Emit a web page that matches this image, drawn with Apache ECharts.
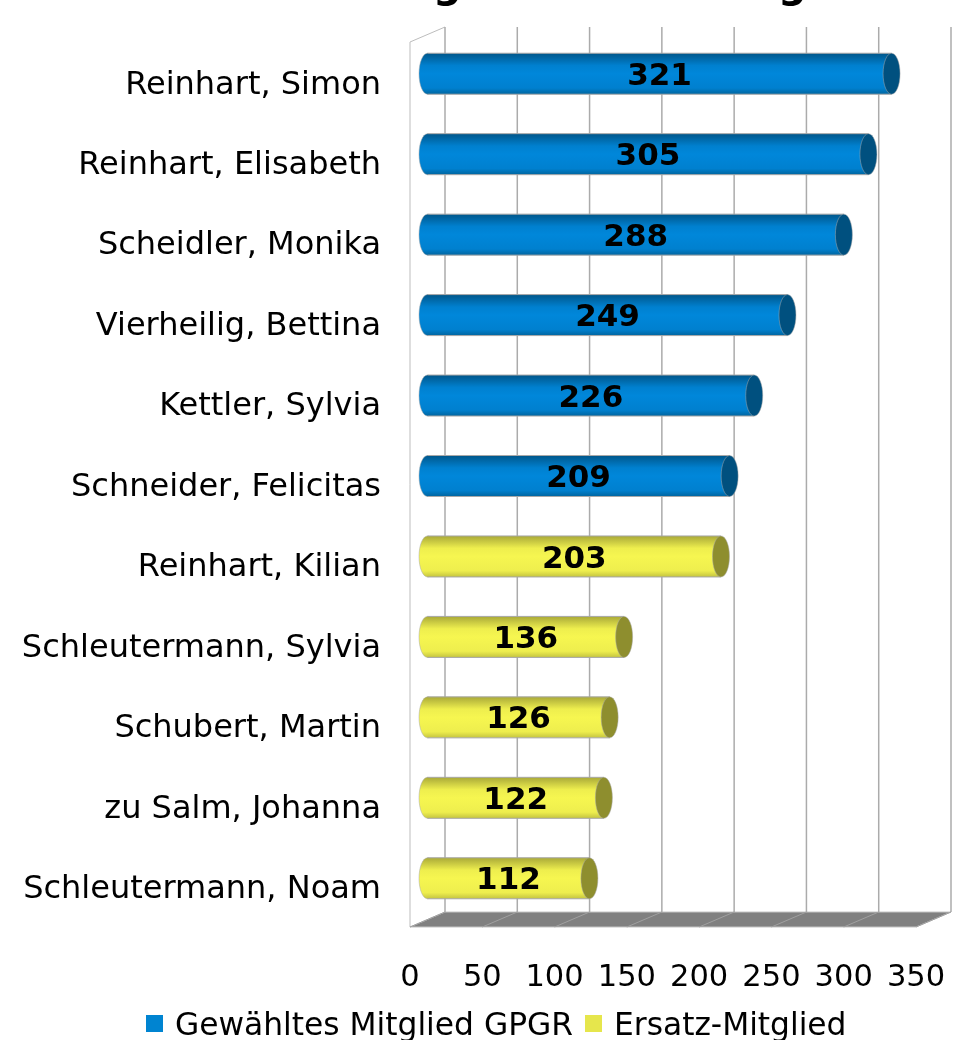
<!DOCTYPE html>
<html>
<head>
<meta charset="utf-8">
<style>
  html, body { margin: 0; padding: 0; background: #fff; }
  #chart { width: 967px; height: 1040px; }
</style>
<script src="https://cdn.jsdelivr.net/npm/echarts@6/dist/echarts.min.js"></script>
</head>
<body>
<div id="chart"></div>
<script>
// chart data
var names = [
  'Reinhart, Simon', 'Reinhart, Elisabeth', 'Scheidler, Monika', 'Vierheilig, Bettina',
  'Kettler, Sylvia', 'Schneider, Felicitas', 'Reinhart, Kilian', 'Schleutermann, Sylvia',
  'Schubert, Martin', 'zu Salm, Johanna', 'Schleutermann, Noam'
]
var electedValues = [321, 305, 288, 249, 226, 209, null, null, null, null, null]
var substituteValues = [null, null, null, null, null, null, 203, 136, 126, 122, 112]
var axisTicks = [0, 50, 100, 150, 200, 250, 300, 350]
var seriesNames = ['Gewähltes Mitglied GPGR', 'Ersatz-Mitglied']

var FONT = '"DejaVu Sans", Verdana, sans-serif'
// fake 3d depth of the plot box
var DEPTH_X = 35
var DEPTH_Y = 15
var BAR_HEIGHT = 41
var CAP_RX = 8.5

function barPalette (dark, mid, edge, bottom, cap) {
  return { dark: dark, mid: mid, edge: edge, bottom: bottom, cap: cap }
}
var bluePalette = barPalette('#00568a', '#0087da', '#0080cf', '#00659f', '#00507f')
var yellowPalette = barPalette('#a9a938', '#f6f650', '#eeee4e', '#c4c440', '#8e8e2e')

// draws one cylinder
function renderCylinder (palette) {
  return function (params, api) {
    var value = api.value(0)
    var start = api.coord([0, api.value(1)])
    var end = api.coord([value, api.value(1)])
    var x0 = start[0] + DEPTH_X / 2
    var x1 = end[0] + DEPTH_X / 2
    var cy = start[1] - DEPTH_Y / 2 - 1
    var top = cy - BAR_HEIGHT / 2
    var fill = new echarts.graphic.LinearGradient(0, 0, 0, 1, [
      { offset: 0, color: palette.dark },
      { offset: 0.3, color: palette.edge },
      { offset: 0.5, color: palette.mid },
      { offset: 0.85, color: palette.edge },
      { offset: 1, color: palette.bottom }
    ])
    var outline = { stroke: '#a8a8a8', lineWidth: 1 }
    return {
      type: 'group',
      children: [
        { type: 'ellipse', shape: { cx: x0, cy: cy, rx: CAP_RX, ry: BAR_HEIGHT / 2 }, style: { fill: fill, stroke: '#a8a8a8', lineWidth: 0.5 } },
        { type: 'rect', shape: { x: x0, y: top, width: x1 - x0, height: BAR_HEIGHT }, style: { fill: fill } },
        { type: 'line', shape: { x1: x0, y1: top, x2: x1, y2: top }, style: outline },
        { type: 'line', shape: { x1: x0, y1: top + BAR_HEIGHT, x2: x1, y2: top + BAR_HEIGHT }, style: outline },
        { type: 'ellipse', shape: { cx: x1, cy: cy, rx: CAP_RX, ry: BAR_HEIGHT / 2 }, style: { fill: palette.cap, stroke: '#a8a8a8', lineWidth: 0.5 } },
        {
          type: 'text',
          x: (x0 + x1) / 2,
          y: cy + 3,
          style: { text: String(value), fill: '#000', font: 'bold 31px ' + FONT, align: 'center', verticalAlign: 'middle' }
        }
      ]
    }
  }
}

// back wall line and floor seam for one tick
function renderGridTick (params, api) {
  var sys = params.coordSys
  var x = api.coord([api.value(0), 0])[0]
  var bottom = sys.y + sys.height
  return {
    type: 'group',
    children: [
      { type: 'line', shape: { x1: x + DEPTH_X, y1: sys.y - DEPTH_Y, x2: x + DEPTH_X, y2: bottom - DEPTH_Y }, style: { stroke: '#ababab', lineWidth: 1.5 } },
      { type: 'line', shape: { x1: x, y1: bottom, x2: x + DEPTH_X, y2: bottom - DEPTH_Y }, style: { stroke: '#a0a0a0', lineWidth: 1 } }
    ]
  }
}

// floor and left wall, drawn once
function renderFloor (params, api) {
  var sys = params.coordSys
  var left = sys.x
  var right = sys.x + sys.width
  var top = sys.y
  var bottom = sys.y + sys.height
  return {
    type: 'group',
    children: [
      {
        type: 'polygon',
        shape: { points: [[left, bottom], [left + DEPTH_X, bottom - DEPTH_Y], [right + DEPTH_X, bottom - DEPTH_Y], [right, bottom]] },
        style: { fill: '#808080', stroke: '#c4c4c4', lineWidth: 1 }
      },
      {
        type: 'polyline',
        shape: { points: [[left, bottom], [left, top], [left + DEPTH_X, top - DEPTH_Y]] },
        style: { fill: 'none', stroke: '#bdbdbd', lineWidth: 1 }
      }
    ]
  }
}

function barData (values) {
  var out = []
  values.forEach(function (v, i) {
    if (v !== null) out.push([v, i])
  })
  return out
}

var chart = echarts.init(document.getElementById('chart'))
chart.setOption({
  animation: false,
  backgroundColor: '#fff',
  grid: { left: 410, top: 42, width: 506, height: 885 },
  legend: {
    data: seriesNames,
    left: 141,
    top: 1006,
    itemWidth: 17,
    itemHeight: 17,
    itemGap: 12,
    icon: 'rect',
    formatter: function (name) {
      return '{label|' + name + '}'
    },
    textStyle: {
      color: '#000',
      fontFamily: FONT,
      fontSize: 31.3,
      padding: [0, 0, 0, 7],
      rich: {
        // sits a few px lower than the legend square
        label: { color: '#000', fontFamily: FONT, fontSize: 31.3, padding: [6, 0, 0, 0] }
      }
    }
  },
  xAxis: {
    type: 'value',
    min: 0,
    max: 350,
    interval: 50,
    axisLine: { show: false },
    axisTick: { show: false },
    splitLine: { show: false },
    axisLabel: { color: '#000', fontFamily: FONT, fontSize: 30.5, margin: 36 }
  },
  yAxis: {
    type: 'category',
    inverse: true,
    data: names,
    axisLine: { show: false },
    axisTick: { show: false },
    // top aligned with a short line box pushes the names a little below the band centre
    axisLabel: { color: '#000', fontFamily: FONT, fontSize: 32, margin: 29, interval: 0, verticalAlign: 'top', lineHeight: 6 }
  },
  series: [
    { name: 'floor', type: 'custom', z: 1, silent: true, renderItem: renderFloor, data: [[0, 0]] },
    { name: 'ticks', type: 'custom', z: 2, silent: true, renderItem: renderGridTick, data: axisTicks.map(function (t) { return [t, 0] }) },
    { name: seriesNames[0], type: 'custom', z: 3, renderItem: renderCylinder(bluePalette), itemStyle: { color: '#0084d1' }, encode: { x: 0, y: 1 }, data: barData(electedValues) },
    { name: seriesNames[1], type: 'custom', z: 3, renderItem: renderCylinder(yellowPalette), itemStyle: { color: '#e6e64c' }, encode: { x: 0, y: 1 }, data: barData(substituteValues) }
  ],
  graphic: [
    // the title is cut off by the top edge, only the g tails show
    { type: 'text', x: 433, y: -33, style: { text: 'g', fill: '#000', font: 'bold 40px ' + FONT } },
    { type: 'text', x: 778, y: -33, style: { text: 'g', fill: '#000', font: 'bold 40px ' + FONT } }
  ]
})
</script>
</body>
</html>
